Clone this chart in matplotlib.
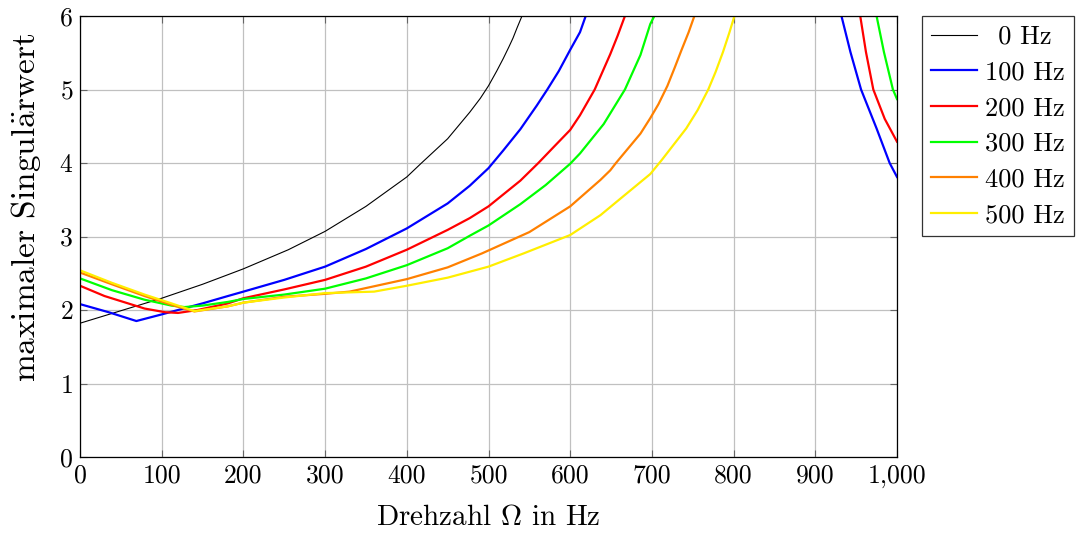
import matplotlib
matplotlib.use("Agg")
import matplotlib.pyplot as plt
from matplotlib.ticker import FuncFormatter

plt.rcParams["font.family"] = ["cmr10", "DejaVu Serif"]
plt.rcParams["mathtext.fontset"] = "cm"
plt.rcParams["axes.formatter.use_mathtext"] = True

# Drehzahl in Hz und maximaler Singulaerwert je Anregungsfrequenz
hz_0 = [0, 50, 100, 150, 181, 200, 255, 300, 350, 400, 418, 450, 477, 490, 500, 510, 518, 525, 530, 535, 541, 548]
sv_0 = [1.82, 1.99, 2.16, 2.35, 2.48, 2.56, 2.82, 3.07, 3.41, 3.81, 4.0, 4.33, 4.69, 4.88, 5.05, 5.25, 5.42, 5.58, 5.7, 5.84, 6.0, 6.2]

hz_100 = [0, 35, 69, 100, 150, 181, 200, 250, 300, 350, 400, 450, 477, 500, 518, 539, 559, 572, 586, 600, 612, 619, 623]
sv_100 = [2.08, 1.97, 1.85, 1.94, 2.09, 2.19, 2.25, 2.41, 2.59, 2.83, 3.11, 3.45, 3.69, 3.93, 4.17, 4.46, 4.78, 5.0, 5.25, 5.54, 5.78, 6.0, 6.2]
hz_100r = [925, 932, 943, 956, 975, 991, 1000]
sv_100r = [6.4, 6.0, 5.51, 5.0, 4.47, 4.0, 3.81]

hz_200 = [0, 30, 79, 104, 120, 144, 181, 200, 250, 300, 350, 400, 450, 477, 500, 539, 561, 580, 600, 612, 630, 649, 658, 667, 672]
sv_200 = [2.33, 2.19, 2.02, 1.97, 1.96, 2.0, 2.09, 2.16, 2.28, 2.41, 2.59, 2.82, 3.09, 3.25, 3.41, 3.76, 4.0, 4.22, 4.45, 4.65, 5.0, 5.48, 5.73, 6.0, 6.2]
hz_200r = [950, 955, 962, 971, 985, 1000]
sv_200r = [6.2, 6.0, 5.51, 5.0, 4.6, 4.29]

hz_300 = [0, 39, 79, 112, 128, 150, 181, 200, 250, 300, 350, 400, 450, 477, 500, 539, 570, 600, 612, 641, 667, 686, 698, 703, 707]
sv_300 = [2.43, 2.27, 2.14, 2.06, 2.04, 2.06, 2.11, 2.15, 2.21, 2.29, 2.43, 2.61, 2.84, 3.01, 3.15, 3.44, 3.7, 3.99, 4.13, 4.53, 5.0, 5.47, 5.89, 6.0, 6.2]
hz_300r = [970, 975, 984, 995, 1000]
sv_300r = [6.2, 6.0, 5.51, 5.0, 4.87]

hz_400 = [0, 39, 79, 112, 140, 181, 200, 250, 300, 330, 400, 450, 492, 550, 600, 637, 649, 656, 686, 698, 708, 719, 728, 736, 745, 752, 756]
sv_400 = [2.51, 2.35, 2.19, 2.07, 1.98, 2.05, 2.1, 2.18, 2.22, 2.25, 2.42, 2.58, 2.77, 3.06, 3.41, 3.77, 3.9, 4.0, 4.4, 4.61, 4.8, 5.05, 5.3, 5.53, 5.78, 6.0, 6.2]

hz_500 = [0, 39, 79, 112, 140, 181, 200, 250, 300, 360, 400, 450, 500, 543, 600, 637, 662, 698, 712, 742, 756, 769, 778, 787, 795, 801, 805]
sv_500 = [2.54, 2.37, 2.21, 2.09, 1.985, 2.05, 2.1, 2.17, 2.23, 2.25, 2.33, 2.44, 2.59, 2.77, 3.02, 3.29, 3.52, 3.85, 4.04, 4.47, 4.72, 5.0, 5.24, 5.51, 5.78, 6.0, 6.2]

fig = plt.figure(figsize=(10.78, 5.33), dpi=100)
ax = fig.add_axes([80 / 1078, 1 - 457 / 533, 817 / 1078, 441 / 533])

ax.plot(hz_0, sv_0, color="black", lw=0.8, label="\u20020 Hz")
ax.plot(hz_100, sv_100, color="#0000ff", lw=1.6, label="100 Hz")
ax.plot(hz_100r, sv_100r, color="#0000ff", lw=1.6)
ax.plot(hz_200, sv_200, color="#ff0000", lw=1.6, label="200 Hz")
ax.plot(hz_200r, sv_200r, color="#ff0000", lw=1.6)
ax.plot(hz_300, sv_300, color="#00ff00", lw=1.6, label="300 Hz")
ax.plot(hz_300r, sv_300r, color="#00ff00", lw=1.6)
ax.plot(hz_400, sv_400, color="#ff8000", lw=1.6, label="400 Hz")
ax.plot(hz_500, sv_500, color="#ffee00", lw=1.6, label="500 Hz")

ax.set_xlim(0, 1000)
ax.set_ylim(0, 6)
ax.set_xticks(range(0, 1001, 100))
ax.set_yticks(range(0, 7))
ax.xaxis.set_major_formatter(FuncFormatter(lambda v, p: f"{int(v):,}"))
ax.grid(True, color="#c0c0c0", lw=0.9)
ax.tick_params(direction="in", top=True, right=True, labelsize=18.5, length=5, color="#666666", pad=5)
for s in ax.spines.values():
    s.set_linewidth(0.9)

ax.set_xlabel(r"Drehzahl $\Omega$ in Hz", fontsize=21, labelpad=12)
ax.set_ylabel(r"maximaler Singul$\ddot{\mathrm{a}}$rwert", fontsize=24, va="center")
ax.yaxis.set_label_coords(-54 / 817, (457 - 207) / 441)

leg = ax.legend(loc="upper left", bbox_to_anchor=(922 / 1078, 1 - 16 / 533), bbox_transform=fig.transFigure,
                fontsize=19, frameon=True, fancybox=False, edgecolor="black", handlelength=1.75,
                borderpad=0.35, labelspacing=0.45, handletextpad=0.3, borderaxespad=0)
leg.get_frame().set_linewidth(0.9)

fig.savefig("out.png", dpi=100)
